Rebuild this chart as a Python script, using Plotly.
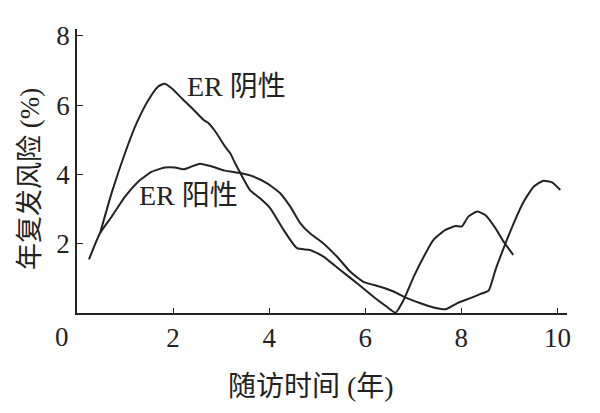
import plotly.graph_objects as go

# ER negative (阴性) curve
neg_x = [0.48, 0.72, 1.0, 1.24, 1.49, 1.69, 1.82, 1.97, 2.18, 2.39, 2.63, 2.74, 2.88, 3.08, 3.19, 3.29,
         3.40, 3.60, 3.81, 4.02, 4.30, 4.58, 4.85, 5.13, 5.48, 5.83, 6.17, 6.45, 6.63, 6.80, 7.01, 7.22,
         7.42, 7.67, 7.88, 8.01, 8.15, 8.33, 8.50, 8.71, 8.88, 9.08]
neg_y = [2.30, 3.46, 4.62, 5.48, 6.16, 6.54, 6.62, 6.49, 6.20, 5.92, 5.58, 5.48, 5.24, 4.81, 4.61, 4.33,
         4.04, 3.55, 3.31, 3.03, 2.40, 1.87, 1.82, 1.63, 1.24, 0.86, 0.47, 0.18, 0.01, 0.38, 1.05, 1.63,
         2.11, 2.40, 2.51, 2.50, 2.79, 2.93, 2.83, 2.45, 2.06, 1.68]

# ER positive (阳性) curve
pos_x = [0.25, 0.48, 0.72, 1.0, 1.28, 1.56, 1.83, 2.04, 2.22, 2.35, 2.56, 2.81, 3.08, 3.40, 3.67, 3.95,
         4.23, 4.44, 4.65, 4.85, 5.13, 5.41, 5.69, 5.96, 6.31, 6.59, 6.87, 7.15, 7.42, 7.67, 7.91, 8.19,
         8.40, 8.57, 8.71, 8.92, 9.09, 9.30, 9.51, 9.71, 9.89, 10.06]
pos_y = [1.55, 2.31, 2.78, 3.36, 3.80, 4.08, 4.20, 4.20, 4.15, 4.21, 4.31, 4.23, 4.11, 4.04, 3.94, 3.75,
         3.46, 3.07, 2.59, 2.30, 2.01, 1.63, 1.19, 0.90, 0.76, 0.62, 0.43, 0.28, 0.16, 0.11, 0.28, 0.43,
         0.55, 0.65, 1.24, 2.01, 2.59, 3.22, 3.65, 3.82, 3.77, 3.55]

x_ticks = [2, 4, 6, 8, 10]
y_ticks = [2, 4, 6, 8]
x_title = "随访时间 (年)"
y_title = "年复发风险 (%)"
label_neg = "ER 阴性"
label_pos = "ER 阳性"

FONT = "Liberation Serif, Noto Sans CJK SC, serif"
INK = "#222222"

fig = go.Figure()
fig.add_trace(go.Scatter(x=neg_x, y=neg_y, mode="lines",
                         line=dict(color=INK, width=2, shape="spline", smoothing=0.5),
                         showlegend=False))
fig.add_trace(go.Scatter(x=pos_x, y=pos_y, mode="lines",
                         line=dict(color=INK, width=2, shape="spline", smoothing=0.5),
                         showlegend=False))

fig.add_annotation(x=2.25, y=6.53, text=label_neg, showarrow=False, xanchor="left", yanchor="middle",
                   font=dict(family=FONT, size=28, color=INK))
fig.add_annotation(x=1.25, y=3.38, text=label_pos, showarrow=False, xanchor="left", yanchor="middle",
                   font=dict(family=FONT, size=28, color=INK))
fig.add_annotation(x=-0.03, y=-0.085, xref="paper", yref="paper", text="0", showarrow=False,
                   xanchor="center", yanchor="middle", font=dict(family=FONT, size=27, color=INK))
fig.add_annotation(x=0.478, y=-0.258, xref="paper", yref="paper", text=x_title, showarrow=False,
                   xanchor="center", yanchor="middle", font=dict(family=FONT, size=28, color=INK))
fig.add_annotation(x=-0.096, y=0.472, xref="paper", yref="paper", text=y_title, showarrow=False,
                   textangle=-90, xanchor="center", yanchor="middle",
                   font=dict(family=FONT, size=27, color=INK))

fig.update_xaxes(range=[0, 10.2], tickvals=x_ticks, ticks="inside", ticklen=5, tickcolor=INK,
                 showline=True, linecolor=INK, linewidth=1.5, showgrid=False, zeroline=False,
                 tickfont=dict(family=FONT, size=27, color=INK))
fig.update_yaxes(range=[0, 8.2], tickvals=y_ticks, ticks="inside", ticklen=6, tickcolor=INK,
                 showline=True, linecolor=INK, linewidth=1.5, showgrid=False, zeroline=False,
                 tickfont=dict(family=FONT, size=27, color=INK))

fig.update_layout(width=600, height=413, autosize=False,
                  margin=dict(l=77, r=33, t=29, b=100),
                  plot_bgcolor="white", paper_bgcolor="white")

fig.write_html("out.html", config={"displayModeBar": False},
               post_script="document.body.style.margin='0';")
